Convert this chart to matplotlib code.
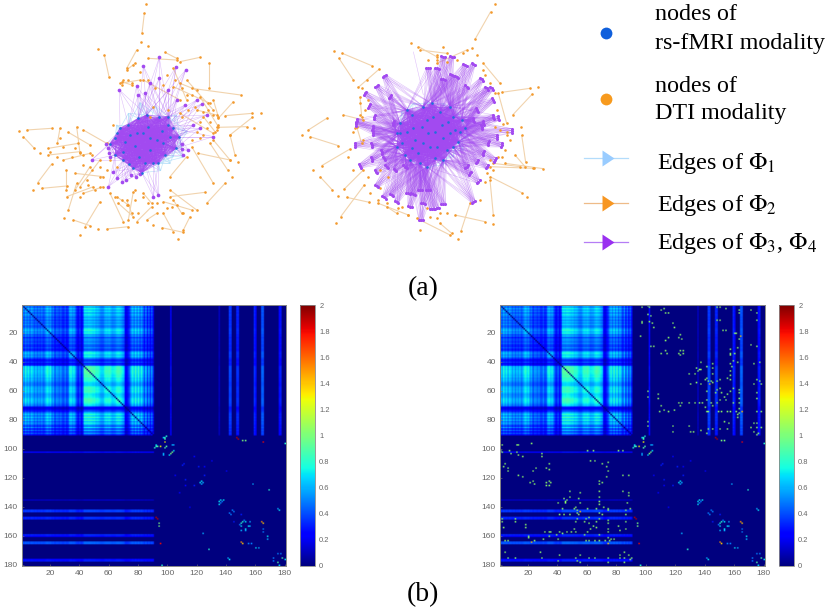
from itertools import combinations

import matplotlib

matplotlib.use("Agg")
import matplotlib.pyplot as plt
import numpy as np
from matplotlib.collections import LineCollection

W, H = 831, 612
plt.rcParams["mathtext.fontset"] = "stix"

ORANGE = "#f39a2e"
EDGE_ORANGE = "#f1d3ad"
PURPLE = "#a24af0"
LIGHT_BLUE = "#a9daf8"
BLUE = "#1f70dc"
SANS = "Liberation Sans"
SERIF = "Liberation Serif"

left_core = [(330, 432), (345, 465), (352, 400), (375, 425), (368, 455), (388, 492), (385, 375), (410, 400),
             (405, 437), (418, 472), (425, 518), (440, 345), (445, 380), (450, 415), (450, 450), (460, 488),
             (478, 352), (485, 392), (490, 430), (495, 465), (505, 350), (520, 385), (538, 410), (528, 445),
             (415, 355), (360, 385), (400, 505), (475, 490), (345, 415), (390, 405), (430, 400), (470, 420),
             (510, 410), (435, 490), (370, 480), (505, 375)]
left_halo = [(420, 308), (465, 318), (530, 345), (562, 395), (548, 472), (510, 490), (482, 512), (350, 375),
             (385, 340), (520, 470), (545, 440)]
left_hubs = [(318, 432), (325, 445), (326, 458), (331, 470), (340, 515), (350, 533), (365, 547), (378, 540),
             (392, 525), (408, 530), (420, 522), (545, 432), (545, 448), (548, 465), (410, 258), (415, 285),
             (435, 280), (430, 198), (478, 172), (528, 200), (557, 210), (358, 270), (505, 270), (530, 300),
             (555, 315), (605, 312), (620, 345), (600, 385), (640, 410), (565, 450), (460, 590), (475, 585),
             (275, 480), (325, 560), (450, 248), (478, 235), (590, 300), (580, 375)]
left_edges = [(433, 40, 426, 100), (313, 165, 327, 230), (410, 150, 380, 205), (445, 175, 530, 180),
              (495, 157, 530, 175), (600, 172, 540, 185), (627, 190, 627, 265), (575, 265, 722, 285),
              (700, 305, 655, 355), (757, 340, 675, 347), (757, 352, 690, 405), (650, 382, 740, 380),
              (690, 405, 705, 465), (640, 420, 690, 480), (630, 430, 683, 510), (595, 460, 690, 480),
              (575, 440, 640, 550), (560, 470, 510, 530), (675, 550, 620, 610), (615, 577, 510, 590),
              (510, 570, 590, 630), (570, 650, 550, 690), (490, 605, 575, 630), (490, 640, 520, 695),
              (485, 683, 550, 697), (455, 620, 410, 665), (385, 680, 320, 687), (300, 605, 255, 680),
              (220, 660, 270, 677), (330, 580, 370, 665), (230, 550, 205, 630), (400, 575, 385, 660),
              (155, 492, 113, 548), (197, 510, 197, 570), (125, 565, 200, 558), (70, 410, 103, 445),
              (80, 390, 155, 385), (205, 397, 270, 435), (250, 390, 320, 430), (180, 385, 172, 430),
              (145, 445, 235, 430), (145, 465, 240, 455), (190, 480, 270, 460), (230, 380, 240, 460),
              (225, 520, 310, 530), (300, 480, 240, 560), (200, 590, 280, 560), (250, 580, 310, 560),
              (355, 610, 400, 650), (440, 660, 470, 640), (360, 250, 420, 240), (380, 210, 405, 190),
              (430, 240, 540, 300), (520, 205, 560, 300), (560, 240, 640, 330), (600, 290, 655, 380),
              (540, 340, 640, 400), (520, 260, 630, 310), (640, 300, 655, 350), (380, 600, 395, 640),
              (365, 245, 395, 255), (540, 250, 590, 270), (590, 330, 650, 345), (610, 350, 645, 395),
              (270, 500, 225, 570), (350, 590, 385, 615), (430, 580, 455, 610), (520, 600, 545, 640)]
left_extra = [(437, 13), (295, 147), (423, 127), (445, 137), (57, 392), (120, 460), (98, 570), (192, 655),
              (240, 705), (535, 718), (762, 385), (782, 340), (714, 487), (695, 532), (460, 675), (295, 687),
              (370, 240), (395, 250), (500, 225), (545, 265), (575, 285), (610, 335), (630, 365), (650, 390),
              (610, 405), (340, 375), (350, 500), (300, 500), (275, 510), (260, 540), (285, 570), (240, 590),
              (365, 600), (380, 615), (430, 590), (445, 610), (500, 625), (530, 615), (550, 640), (180, 415),
              (150, 455), (215, 470), (250, 495), (590, 395), (625, 330), (600, 365), (565, 330), (450, 350),
              (400, 195), (385, 240), (365, 255), (420, 215), (445, 240), (465, 265), (490, 255), (525, 240),
              (560, 285), (585, 320), (625, 310), (640, 345), (655, 375), (620, 385), (600, 415), (575, 420),
              (545, 350), (505, 330), (460, 320), (250, 465), (225, 445), (190, 440), (170, 470), (300, 530),
              (320, 510), (345, 590), (405, 600), (415, 640), (470, 610), (515, 620), (405, 570), (265, 555),
              (300, 560), (330, 480), (275, 465)]

right_core = [(350, 400), (360, 370), (365, 430), (375, 465), (395, 345), (400, 385), (405, 420), (415, 460),
              (420, 490), (430, 320), (440, 360), (445, 400), (450, 440), (465, 475), (480, 335), (485, 375),
              (490, 415), (500, 450), (520, 350), (525, 390), (535, 425), (555, 385), (510, 320), (380, 330),
              (390, 480), (455, 310), (545, 360), (350, 440), (380, 395), (425, 380), (465, 395), (510, 400),
              (470, 440), (430, 430), (395, 445), (505, 365), (460, 350), (360, 400), (540, 395), (490, 480),
              (440, 500), (520, 440)]
right_halo = [(400, 310), (440, 305), (490, 310), (535, 340), (565, 410), (550, 450), (520, 470), (490, 495),
              (450, 505), (420, 500), (365, 335)]
right_hubs = [(313, 228), (290, 258), (255, 280), (268, 318), (330, 290), (283, 352), (230, 362), (228, 372),
              (340, 370), (278, 385), (278, 400), (225, 435), (275, 435), (305, 455), (312, 475), (275, 478),
              (240, 498), (288, 515), (320, 500), (345, 510), (375, 500), (290, 558), (312, 592), (335, 585),
              (350, 605), (385, 580), (400, 582), (390, 620), (420, 570), (445, 570), (430, 610), (423, 660),
              (455, 627), (490, 612), (470, 625), (580, 605), (595, 545), (570, 520), (620, 500), (590, 485),
              (645, 480), (665, 435), (650, 410), (625, 430), (695, 392), (655, 355), (640, 350), (610, 370),
              (605, 380), (580, 360), (590, 330), (640, 300), (620, 265), (635, 265), (605, 238), (580, 193),
              (560, 260), (530, 230), (515, 225), (490, 238), (470, 205), (445, 205), (515, 170), (490, 170),
              (555, 195), (610, 460), (560, 500)]
right_edges = [(632, 35, 585, 118), (187, 160, 275, 197), (177, 175, 220, 240), (298, 207, 235, 262),
               (85, 390, 140, 355), (90, 410, 175, 437), (125, 497, 210, 447), (120, 530, 157, 570),
               (192, 568, 250, 510), (182, 650, 253, 555), (200, 592, 268, 607), (665, 277, 750, 265),
               (757, 282, 698, 345), (725, 405, 737, 487), (790, 506, 675, 490), (725, 578, 630, 530),
               (640, 645, 630, 540), (615, 665, 525, 645), (543, 693, 570, 610), (510, 705, 420, 660),
               (480, 670, 515, 700), (415, 140, 470, 170), (630, 500, 760, 505), (655, 280, 680, 370),
               (190, 345, 250, 360), (230, 380, 245, 430), (240, 290, 245, 350), (295, 610, 385, 645),
               (320, 620, 350, 640), (640, 490, 720, 500), (705, 465, 735, 500), (420, 150, 500, 160),
               (470, 190, 560, 150), (610, 190, 660, 250)]
right_extra = [(645, 13), (163, 152), (394, 128), (65, 404), (775, 262), (168, 670), (175, 588), (100, 510),
               (533, 718), (420, 690), (640, 672), (740, 590), (762, 505), (722, 380), (670, 372), (680, 395),
               (490, 142), (575, 143), (592, 165), (445, 180), (260, 240), (245, 265), (240, 310), (225, 385),
               (250, 420), (205, 470), (220, 510), (265, 530), (270, 580), (295, 600), (365, 620), (385, 645),
               (410, 655), (450, 650), (470, 655), (500, 640), (600, 600), (615, 545), (640, 510), (655, 470),
               (675, 450), (690, 420), (660, 390), (650, 330), (630, 250), (610, 210), (530, 180), (470, 180),
               (255, 330), (240, 345), (265, 300), (220, 395), (300, 510), (325, 530), (300, 565), (320, 610),
               (355, 625), (440, 625), (480, 640), (620, 520), (630, 480), (665, 470), (680, 405), (645, 380),
               (645, 280), (615, 225), (550, 160), (500, 185), (470, 165)]

purple_links_right = [(400, 155, 430, 285)]

# per-region strength of the rs-fMRI block, row/col 1..90
fmri_profile = [.74, .62, .82, .68, .78, .62, .76, .70, .60, .70, .58, .68, .60, .70, .58, .64, .78, .84,
                .74, .80, .60, .66, .46, .60, .58, .52, .60, .48, .46, .58, .44, .50, .78, .82, .72, .78,
                .62, .42, .36, .50, .32, .44, .92, .96, .94, .98, .96, .94, .90, .92, .84, .86, .82, .74,
                .70, .72, .84, .88, .86, .90, .84, .76, .78, .80, .88, .92, .90, .86, .78, .70, .30, .26,
                .38, .50, .72, .84, .70, .88, .70, .86, .66, .80, .66, .48, .72, .42, .64, .40, .60, .36]
band_index = [102, 135, 142, 143, 147, 148, 159, 160, 164, 165, 176, 177]
band_value = [.26, .12, .36, .36, .32, .32, .32, .26, .42, .42, .26, .30]

# (row, col, value), mirrored over the diagonal
sparse_row = [92, 93, 95, 92, 97, 101, 97, 101, 102, 122, 123, 135, 135, 136, 142, 145, 147, 148, 150, 150,
              152, 153, 150, 153, 150, 151, 155, 157, 160, 124, 128, 162, 142, 141, 172, 172, 176, 175, 92,
              93, 94, 94, 95, 96, 98, 99, 110, 112, 118, 105, 125, 145, 130, 115]
sparse_col = [98, 98, 98, 97, 103, 104, 104, 101, 103, 123, 124, 136, 138, 137, 144, 143, 147, 148, 151, 153,
              149, 155, 156, 156, 164, 165, 165, 165, 168, 158, 169, 168, 176, 175, 175, 177, 180, 178, 147,
              148, 151, 153, 165, 180, 99, 91, 111, 121, 125, 118, 112, 150, 108, 140]
sparse_val = [.8, .9, 1.3, .7, .6, .7, .6, .6, 1.0, .7, .6, .7, .7, .5, .5, .5, .5, .5, .8, .7, .5, .7, .6, .6,
              1.5, 1.4, .5, .5, .7, .6, .8, .6, .7, .6, .5, .5, .7, .9, 1.9, 1.9, 1.0, 1.0, 1.8, .8, .9, .8,
              .3, .3, .3, .25, .25, .3, .25, .2]

# extra DTI cross edges in the right matrix, crop units of the upper right block
cross_x = [5, 22, 30, 25, 33, 8, 8, 28, 35, 42, 62, 72, 75, 85, 100, 105, 85, 75, 120, 115, 125, 2, 32, 42, 75, 80,
           65, 120, 128, 115, 122, 132, 182, 168, 178, 185, 148, 165, 172, 200, 218, 200, 205, 215, 195, 210, 220,
           150, 168, 185, 240, 232, 262, 270, 240, 232, 245, 228, 262, 270, 255, 280, 200, 200, 198, 200, 220, 220,
           118, 125, 122, 148, 165, 180, 188, 240, 232, 215, 220, 258, 282, 62, 60, 72, 85, 105, 235, 245, 262, 270,
           290, 298, 305, 295, 203, 350, 365, 148, 150, 162, 182, 205, 200, 218, 240, 262, 252, 268, 342, 350, 335,
           350, 340, 355, 365, 350, 295, 298, 272, 270, 272, 285, 295, 298, 300, 290, 285, 298, 298, 230, 240, 258,
           232, 242, 248, 258, 272, 270, 275, 272, 280, 295, 340, 360, 350, 335, 350, 335, 350, 350, 360, 365, 340,
           352, 352, 298, 298, 298, 298, 22, 22, 55, 55, 100, 100, 22, 22]
cross_y = [12, 10, 12, 35, 38, 55, 62, 55, 62, 72, 20, 18, 30, 30, 62, 72, 103, 113, 95, 105, 108, 100, 130, 132,
           143, 150, 152, 142, 150, 150, 158, 145, 178, 195, 200, 200, 212, 212, 205, 190, 180, 225, 235, 235, 230,
           245, 240, 245, 240, 245, 228, 235, 225, 230, 255, 262, 268, 270, 272, 265, 280, 258, 265, 290, 312, 325,
           212, 195, 298, 298, 308, 298, 298, 298, 300, 292, 300, 300, 310, 292, 300, 310, 325, 320, 325, 322, 325,
           325, 325, 325, 325, 318, 325, 335, 325, 325, 325, 368, 385, 388, 382, 378, 390, 378, 378, 378, 358, 362,
           360, 360, 372, 375, 385, 390, 375, 395, 345, 330, 140, 150, 155, 150, 135, 110, 100, 92, 92, 30, 20, 12,
           14, 15, 52, 52, 83, 83, 205, 215, 190, 180, 172, 178, 180, 178, 130, 125, 30, 20, 52, 230, 235, 245, 245,
           270, 285, 260, 270, 285, 300, 265, 280, 275, 285, 370, 385, 355, 370]

color_ticks = [0, 0.2, 0.4, 0.6, 0.8, 1, 1.2, 1.4, 1.6, 1.8, 2]
color_tick_labels = ["0", "0.2", "0.4", "0.6", "0.8", "1", "1.2", "1.4", "1.6", "1.8", "2"]
matrix_ticks = list(range(20, 181, 20))


def px_axes(fig, x0, y0, x1, y1):
    return fig.add_axes([x0 / W, 1 - y1 / H, (x1 - x0) / W, (y1 - y0) / H])


def spread_hubs(hubs, core):
    # a hub shows up as a short bar of neighbouring regions, across its fan
    centre = np.mean(core, axis=0)
    out = []
    for hub in hubs:
        radial = np.array(hub) - centre
        tangent = np.array([-radial[1], radial[0]]) / np.hypot(*radial)
        for off in (-6, 0, 6):
            out.append(tuple(np.array(hub) + off * tangent))
    return out


def nearest(point, core_arr, count):
    dist = np.hypot(*(core_arr - np.array(point)).T)
    return np.argsort(dist)[:count]


def draw_network(ax, core, halo, hubs, edges, extra, fan, links=(), hub_size=7):
    core_arr = np.array(core, dtype=float)
    segs = [[(e[0], e[1]), (e[2], e[3])] for e in edges]
    ax.add_collection(LineCollection(segs, colors=EDGE_ORANGE, linewidths=0.8, zorder=1))

    blue_segs = [[h, core[k]] for h in halo for k in nearest(h, core_arr, 6)]
    ax.add_collection(LineCollection(blue_segs, colors=LIGHT_BLUE, linewidths=0.5, alpha=0.7, zorder=2))

    # each hub reaches its nearest fMRI nodes
    hub_segs = [[(e[0], e[1]), (e[2], e[3])] for e in links]
    for hub in hubs:
        for k in nearest(hub, core_arr, fan):
            hub_segs.append([hub, core[k]])
    ax.add_collection(LineCollection(hub_segs, colors=PURPLE, linewidths=0.4, alpha=0.35, zorder=3))
    ax.add_collection(LineCollection(list(combinations(core, 2)), colors=PURPLE, linewidths=0.6, alpha=0.55, zorder=3))

    node_x = [e[i] for e in edges for i in (0, 2)] + [p[0] for p in extra]
    node_y = [e[i] for e in edges for i in (1, 3)] + [p[1] for p in extra]
    ax.scatter(node_x, node_y, s=3.5, color=ORANGE, linewidths=0, zorder=4)
    ax.scatter(*zip(*hubs), s=hub_size, color=PURPLE, linewidths=0, zorder=5)
    ax.scatter(*zip(*core), s=3.5, color=BLUE, linewidths=0, zorder=5)
    ax.axis("off")


def build_matrix(with_cross):
    mat = np.zeros((180, 180))
    p = np.array(fmri_profile)
    mat[:90, :90] = np.outer(p, p)
    for idx, val in zip(band_index, band_value):
        mat[:90, idx - 1] = val * (0.7 + 0.4 * p)
    for r, c, v in zip(sparse_row, sparse_col, sparse_val):
        mat[r - 1, c - 1] = v
    if with_cross:
        for zx, zy in zip(cross_x, cross_y):
            col = int(round(95.6 + zx * 0.2264))
            row = int(round(-0.88 + zy * 0.23))
            # the cross edges sit brighter where they fall on a strong band
            val = 1.4 if col in (164, 165, 143) else 1.05
            mat[max(row, 1) - 1, min(col, 180) - 1] = val
    upper = np.triu(mat, 1)
    lower = np.tril(mat, -1)
    mat = np.maximum(upper, lower.T)
    mat = mat + mat.T
    np.fill_diagonal(mat, 0)
    return mat


def draw_matrix(fig, box, cbox, with_cross):
    ax = px_axes(fig, *box)
    im = ax.imshow(build_matrix(with_cross), cmap="jet", vmin=0, vmax=2, aspect="auto",
                   extent=(1, 181, 181, 1), interpolation="bilinear")
    ax.set_xticks(matrix_ticks)
    ax.set_yticks(matrix_ticks)
    ax.tick_params(labelsize=6, labelcolor="#666666", color="#777777", length=1.5, width=0.4,
                   direction="in", pad=3)
    for lab in ax.get_xticklabels() + ax.get_yticklabels():
        lab.set_family(SANS)
    for spine in ax.spines.values():
        spine.set_color("#888888")
        spine.set_linewidth(0.7)

    cax = px_axes(fig, *cbox)
    cbar = fig.colorbar(im, cax=cax, ticks=color_ticks)
    cbar.ax.set_yticklabels(color_tick_labels)
    cbar.ax.tick_params(labelsize=5.4, labelcolor="#666666", length=0, pad=3)
    for lab in cbar.ax.get_yticklabels():
        lab.set_family(SANS)
    cbar.outline.set_edgecolor("#888888")
    cbar.outline.set_linewidth(0.6)


def draw_legend(ax):
    head = [(-0.75, -1), (0.75, 0), (-0.75, 1)]
    ax.plot([606], [33], "o", ms=8.5, color="#0f5fdc", mew=0)
    ax.plot([606], [99], "o", ms=8.5, color="#f79a1e", mew=0)
    ax.text(655, 14, "nodes of", family=SERIF, fontsize=17.3, va="center")
    ax.text(655, 44, "rs-fMRI modality", family=SERIF, fontsize=17.3, va="center")
    ax.text(655, 86, "nodes of", family=SERIF, fontsize=17.3, va="center")
    ax.text(655, 114, "DTI modality", family=SERIF, fontsize=17.3, va="center")
    rows = [(158, 5, "#b3dcfb", "#99ccff", r"Edges of $\Phi_1$"),
            (203, 3, "#eebb88", "#f79621", r"Edges of $\Phi_2$"),
            (242, 2, "#b57df5", "#9a30f0", r"Edges of $\Phi_3$, $\Phi_4$")]
    for y, lift, line_c, head_c, label in rows:
        ax.plot([584, 628], [y, y], color=line_c, lw=0.9)
        ax.plot([608], [y], marker=head, ms=11.5, color=head_c, mew=0)
        ax.text(657, y + lift, label, family=SERIF, fontsize=17.4, va="center")
    ax.text(423, 289, "(a)", family=SERIF, fontsize=20, ha="center", va="center")
    ax.text(423, 595, "(b)", family=SERIF, fontsize=20, ha="center", va="center")


def main():
    fig = plt.figure(figsize=(W / 100, H / 100), dpi=100)

    ax_left = px_axes(fig, 0, 0, 280, 270)
    ax_left.set_xlim(0, 840)
    ax_left.set_ylim(810, 0)
    draw_network(ax_left, left_core, left_halo, left_hubs, left_edges, left_extra, fan=4)

    ax_right = px_axes(fig, 280, 0, 550, 270)
    ax_right.set_xlim(0, 810)
    ax_right.set_ylim(810, 0)
    draw_network(ax_right, right_core, right_halo, spread_hubs(right_hubs, right_core), right_edges, right_extra,
                 fan=6, links=purple_links_right, hub_size=5)

    draw_matrix(fig, (22, 305, 286, 566), (300, 305, 315, 566), False)
    draw_matrix(fig, (500, 305, 765, 566), (779, 305, 794, 566), True)

    overlay = fig.add_axes([0, 0, 1, 1])
    overlay.set_xlim(0, W)
    overlay.set_ylim(H, 0)
    overlay.axis("off")
    overlay.patch.set_alpha(0)
    draw_legend(overlay)

    fig.savefig("out.png", dpi=100)


if __name__ == "__main__":
    main()
